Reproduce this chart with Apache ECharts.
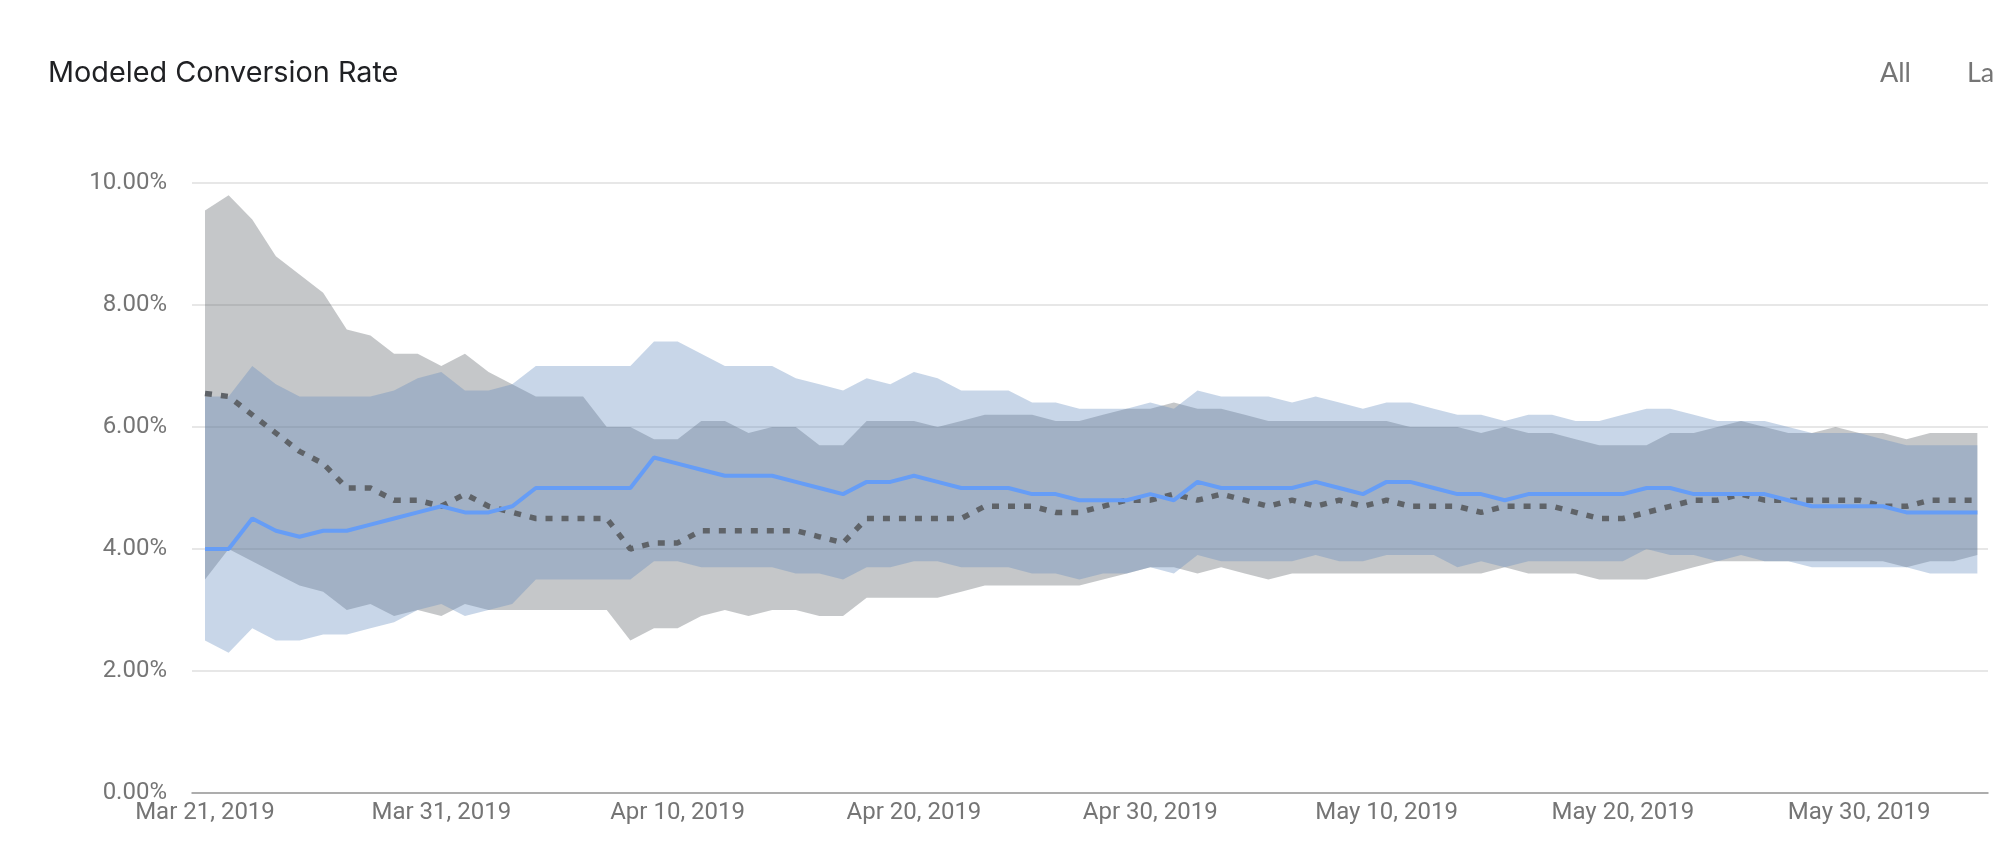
<!DOCTYPE html>
<html>
<head>
<meta charset="utf-8">
<style>html,body{margin:0;padding:0;background:#fff;overflow:hidden}#c{width:1996px;height:852px}</style>
<script src="https://cdn.jsdelivr.net/npm/echarts@6/dist/echarts.min.js"></script>
</head>
<body>
<div id="c"></div>
<script>
const chartTitle = 'Modeled Conversion Rate';
const tabLabels = ['All', 'La'];
const startDate = [2019, 2, 21];
const xTickDays = [0, 10, 20, 30, 40, 50, 60, 70];
const yTicksMax = 10;
const grayHigh = [9.55,9.8,9.4,8.8,8.5,8.2,7.6,7.5,7.2,7.2,
  7.0,7.2,6.9,6.7,6.5,6.5,6.5,6.0,6.0,5.8,
  5.8,6.1,6.1,5.9,6.0,6.0,5.7,5.7,6.1,6.1,
  6.1,6.0,6.1,6.2,6.2,6.2,6.1,6.1,6.2,6.3,
  6.3,6.4,6.3,6.3,6.2,6.1,6.1,6.1,6.1,6.1,
  6.1,6.0,6.0,6.0,5.9,6.0,5.9,5.9,5.8,5.7,
  5.7,5.7,5.9,5.9,6.0,6.1,6.0,5.9,5.9,6.0,
  5.9,5.9,5.8,5.9,5.9,5.9];
const grayMid = [6.55,6.5,6.2,5.9,5.6,5.4,5.0,5.0,4.8,4.8,
  4.7,4.9,4.7,4.6,4.5,4.5,4.5,4.5,4.0,4.1,
  4.1,4.3,4.3,4.3,4.3,4.3,4.2,4.1,4.5,4.5,
  4.5,4.5,4.5,4.7,4.7,4.7,4.6,4.6,4.7,4.8,
  4.8,4.9,4.8,4.9,4.8,4.7,4.8,4.7,4.8,4.7,
  4.8,4.7,4.7,4.7,4.6,4.7,4.7,4.7,4.6,4.5,
  4.5,4.6,4.7,4.8,4.8,4.9,4.8,4.8,4.8,4.8,
  4.8,4.7,4.7,4.8,4.8,4.8];
const grayLow = [3.5,4.0,3.8,3.6,3.4,3.3,3.0,3.1,2.9,3.0,
  2.9,3.1,3.0,3.0,3.0,3.0,3.0,3.0,2.5,2.7,
  2.7,2.9,3.0,2.9,3.0,3.0,2.9,2.9,3.2,3.2,
  3.2,3.2,3.3,3.4,3.4,3.4,3.4,3.4,3.5,3.6,
  3.7,3.7,3.6,3.7,3.6,3.5,3.6,3.6,3.6,3.6,
  3.6,3.6,3.6,3.6,3.6,3.7,3.6,3.6,3.6,3.5,
  3.5,3.5,3.6,3.7,3.8,3.8,3.8,3.8,3.8,3.8,
  3.8,3.8,3.7,3.8,3.8,3.9];
const blueHigh = [6.5,6.5,7.0,6.7,6.5,6.5,6.5,6.5,6.6,6.8,
  6.9,6.6,6.6,6.7,7.0,7.0,7.0,7.0,7.0,7.4,
  7.4,7.2,7.0,7.0,7.0,6.8,6.7,6.6,6.8,6.7,
  6.9,6.8,6.6,6.6,6.6,6.4,6.4,6.3,6.3,6.3,
  6.4,6.3,6.6,6.5,6.5,6.5,6.4,6.5,6.4,6.3,
  6.4,6.4,6.3,6.2,6.2,6.1,6.2,6.2,6.1,6.1,
  6.2,6.3,6.3,6.2,6.1,6.1,6.1,6.0,5.9,5.9,
  5.9,5.8,5.7,5.7,5.7,5.7];
const blueMid = [4.0,4.0,4.5,4.3,4.2,4.3,4.3,4.4,4.5,4.6,
  4.7,4.6,4.6,4.7,5.0,5.0,5.0,5.0,5.0,5.5,
  5.4,5.3,5.2,5.2,5.2,5.1,5.0,4.9,5.1,5.1,
  5.2,5.1,5.0,5.0,5.0,4.9,4.9,4.8,4.8,4.8,
  4.9,4.8,5.1,5.0,5.0,5.0,5.0,5.1,5.0,4.9,
  5.1,5.1,5.0,4.9,4.9,4.8,4.9,4.9,4.9,4.9,
  4.9,5.0,5.0,4.9,4.9,4.9,4.9,4.8,4.7,4.7,
  4.7,4.7,4.6,4.6,4.6,4.6];
const blueLow = [2.5,2.3,2.7,2.5,2.5,2.6,2.6,2.7,2.8,3.0,
  3.1,2.9,3.0,3.1,3.5,3.5,3.5,3.5,3.5,3.8,
  3.8,3.7,3.7,3.7,3.7,3.6,3.6,3.5,3.7,3.7,
  3.8,3.8,3.7,3.7,3.7,3.6,3.6,3.5,3.6,3.6,
  3.7,3.6,3.9,3.8,3.8,3.8,3.8,3.9,3.8,3.8,
  3.9,3.9,3.9,3.7,3.8,3.7,3.8,3.8,3.8,3.8,
  3.8,4.0,3.9,3.9,3.8,3.9,3.8,3.8,3.7,3.7,
  3.7,3.7,3.7,3.6,3.6,3.6];

const fontAxis = 'Roboto';
const pairs = arr => arr.map((v, i) => [i, v]);
function dayLabel(d) {
  const dt = new Date(startDate[0], startDate[1], startDate[2] + d);
  const m = ['Jan','Feb','Mar','Apr','May','Jun','Jul','Aug','Sep','Oct','Nov','Dec'][dt.getMonth()];
  return m + ' ' + dt.getDate() + ', ' + dt.getFullYear();
}
function band(name, lo, hi, color) {
  return {
    name, type: 'custom', silent: true, clip: true,
    data: lo.map((v, i) => [i, v, hi[i]]),
    encode: { x: 0, y: [1, 2] },
    renderItem(params, api) {
      if (params.dataIndex !== 0) return null;
      const upper = hi.map((v, i) => api.coord([i, v]));
      const lower = lo.map((v, i) => api.coord([i, v])).reverse();
      return { type: 'polygon', shape: { points: upper.concat(lower) }, style: { fill: color }, silent: true };
    }
  };
}
const chart = echarts.init(document.getElementById('c'), null, { renderer: 'canvas' });
chart.setOption({
  backgroundColor: '#ffffff',
  animation: false,
  title: {
    text: chartTitle, left: 48, top: 59, padding: 0,
    textStyle: { fontFamily: 'Inter', fontWeight: 400, fontSize: 28.8, color: '#202124' }
  },
  graphic: [
    { type: 'text', left: 1880, top: 60, style: { text: tabLabels[0], fontFamily: 'Lato', fontSize: 27, fill: '#757575' } },
    { type: 'text', left: 1967, top: 60, style: { text: tabLabels[1], fontFamily: 'Lato', fontSize: 27, fill: '#757575' } }
  ],
  grid: { left: 192, right: 8, top: 183, bottom: 59, containLabel: false },
  xAxis: {
    type: 'value', min: -0.55, max: 75.45,
    splitLine: { show: false },
    axisTick: { show: false },
    axisLine: { onZero: false, lineStyle: { color: '#9a9a9a', width: 1.5 } },
    axisLabel: {
      customValues: xTickDays, formatter: v => dayLabel(v), margin: 8,
      showMinLabel: true, showMaxLabel: true, hideOverlap: false,
      fontFamily: fontAxis, fontSize: 24, color: '#757575'
    }
  },
  yAxis: {
    type: 'value', min: 0, max: yTicksMax, interval: 2,
    axisLine: { show: false }, axisTick: { show: false },
    splitLine: { lineStyle: { color: '#dfdfdf', width: 1.5 } },
    axisLabel: { formatter: v => v.toFixed(2) + '%', margin: 25, padding: [4, 0, 0, 0], fontFamily: fontAxis, fontSize: 24, color: '#757575' }
  },
  series: [
    band('Previous range', grayLow, grayHigh, 'rgba(95,99,104,0.36)'),
    band('Current range', blueLow, blueHigh, 'rgba(98,138,189,0.35)'),
    { name: 'Previous', type: 'line', data: pairs(grayMid), showSymbol: false, symbol: 'none', silent: true,
      lineStyle: { color: '#5f6368', width: 5.5, type: [7, 9] }, z: 5 },
    { name: 'Current', type: 'line', data: pairs(blueMid), showSymbol: false, symbol: 'none', silent: true,
      lineStyle: { color: '#669df6', width: 4 }, z: 6 }
  ]
});
</script>
</body>
</html>
